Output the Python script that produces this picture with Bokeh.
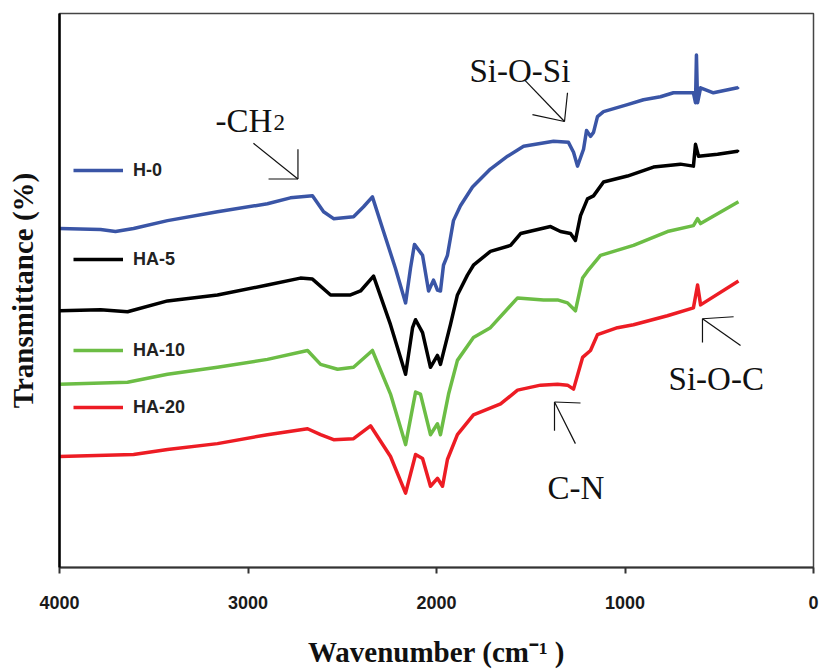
from bokeh.plotting import figure
from bokeh.models import Range1d, FixedTicker, Label, Legend, LegendItem
from bokeh.embed import file_html
from bokeh.resources import INLINE

# ---------------- data (wavenumber cm-1, transmittance in arbitrary offset units) ----------------
h0_wn = [4000, 3782, 3703, 3607, 3427, 3162, 2897, 2775, 2658, 2599, 2546, 2440, 2387, 2340,
         2281, 2218, 2164, 2138, 2117, 2074, 2042, 2016, 1995, 1979, 1963, 1942, 1910, 1873,
         1809, 1714, 1623, 1538, 1379, 1300, 1273, 1252, 1220, 1204, 1183, 1167, 1146, 1114,
         987, 902, 812, 743, 637, 626, 621, 615, 599, 531, 403, 398]
h0_t = [342, 341, 339, 342, 350, 359, 367, 373, 375, 359, 352, 354, 364, 374,
        339, 302, 267, 302, 326, 315, 279, 290, 280, 279, 305, 315, 350, 365,
        384, 402, 415, 425, 430, 429, 419, 405, 422, 441, 435, 439, 455, 460,
        467, 472, 475, 479, 479, 469, 517, 469, 484, 479, 484, 485]

ha5_wn = [4000, 3782, 3639, 3427, 3162, 2897, 2722, 2658, 2562, 2456, 2403, 2334, 2244, 2164,
          2127, 2111, 2074, 2032, 1995, 1979, 1926, 1889, 1836, 1804, 1714, 1607, 1554, 1395,
          1342, 1289, 1263, 1236, 1199, 1167, 1114, 987, 849, 706, 637, 626, 610, 509, 403, 398]
ha5_t = [259, 260, 258, 269, 275, 285, 292, 291, 275, 275, 279, 294, 245, 195,
         242, 250, 237, 202, 214, 205, 245, 275, 295, 305, 319, 325, 337, 344,
         339, 337, 330, 355, 372, 375, 389, 395, 404, 407, 405, 427, 415, 417, 420, 419]

ha10_wn = [4000, 3639, 3427, 3162, 2897, 2684, 2615, 2525, 2440, 2340, 2244, 2164, 2111, 2085,
           2032, 1995, 1979, 1936, 1889, 1804, 1714, 1570, 1432, 1358, 1305, 1263, 1225, 1199,
           1130, 955, 775, 637, 615, 599, 398]
ha10_t = [185, 187, 195, 202, 210, 219, 205, 200, 202, 219, 175, 124, 177, 175,
          134, 145, 134, 175, 209, 232, 242, 272, 270, 270, 267, 259, 292, 299,
          315, 325, 339, 345, 352, 347, 369]

ha20_wn = [4000, 3607, 3427, 3162, 2897, 2684, 2615, 2546, 2440, 2350, 2244, 2164, 2111, 2074,
           2032, 1995, 1968, 1942, 1889, 1804, 1660, 1570, 1448, 1358, 1305, 1273, 1225, 1183,
           1146, 1040, 955, 775, 637, 615, 599, 398]
ha20_t = [112, 114, 119, 125, 134, 140, 134, 129, 130, 143, 112, 75, 114, 110,
          82, 90, 82, 109, 134, 154, 165, 179, 184, 185, 184, 180, 212, 219,
          235, 242, 245, 254, 262, 285, 265, 289]

series_names = ["H-0", "HA-5", "HA-10", "HA-20"]
series_colors = ["#3A55A6", "#000000", "#6CBD45", "#ED1C24"]
x_ticks = [4000, 3000, 2000, 1000, 0]

# ---------------- figure ----------------
p = figure(width=819, height=670, output_backend="svg", toolbar_location=None,
           x_range=Range1d(4000, 0), y_range=Range1d(0, 559),
           min_border_left=59, min_border_right=6, min_border_top=13, min_border_bottom=98)
p.background_fill_color = "white"
p.border_fill_color = "white"
p.outline_line_color = "#444444"
p.outline_line_width = 1.5
p.xgrid.visible = False
p.ygrid.visible = False

serif = "Liberation Serif"

p.xaxis.ticker = FixedTicker(ticks=x_ticks)
p.xaxis.axis_line_color = "#333333"
p.xaxis.axis_line_width = 2
p.xaxis.major_tick_line_color = "#333333"
p.xaxis.major_tick_line_width = 2
p.xaxis.major_tick_in = 0
p.xaxis.major_tick_out = 6
p.xaxis.minor_tick_line_color = None
p.xaxis.major_label_text_font = "Liberation Sans"
p.xaxis.major_label_text_font_style = "bold"
p.xaxis.major_label_text_font_size = "18px"
p.xaxis.major_label_text_color = "#1a1a1a"
p.xaxis.major_label_standoff = 22
p.xaxis.axis_label = "Wavenumber (cm\u207B\u00B9 )"
p.xaxis.axis_label_text_font = serif
p.xaxis.axis_label_text_font_style = "bold"
p.xaxis.axis_label_text_font_size = "29px"
p.xaxis.axis_label_text_color = "#111111"
p.xaxis.axis_label_standoff = 24

p.yaxis.ticker = FixedTicker(ticks=[])
p.yaxis.axis_line_color = "#000000"
p.yaxis.axis_line_width = 2.5
p.yaxis.major_tick_line_color = None
p.yaxis.minor_tick_line_color = None
p.yaxis.axis_label = "Transmittance (%)"
p.yaxis.axis_label_text_font = serif
p.yaxis.axis_label_text_font_style = "bold"
p.yaxis.axis_label_text_font_size = "29px"
p.yaxis.axis_label_text_color = "#111111"
p.yaxis.axis_label_standoff = 21

data = [(h0_wn, h0_t), (ha5_wn, ha5_t), (ha10_wn, ha10_t), (ha20_wn, ha20_t)]
renderers = []
for (wn, t), c in zip(data, series_colors):
    r = p.line(wn, t, line_color=c, line_width=3.5, line_join="round")
    renderers.append(r)

# legends: one per series, placed like the original
legend_pos = [(14, 386), (14, 297), (14, 206), (14, 149)]
for name, r, loc in zip(series_names, renderers, legend_pos):
    leg = Legend(items=[LegendItem(label=name, renderers=[r])], location=loc,
                 padding=0, margin=0, spacing=0, border_line_color=None,
                 background_fill_alpha=0, glyph_width=50, glyph_height=22,
                 label_height=22, label_standoff=10,
                 label_text_font="Liberation Sans", label_text_font_style="bold",
                 label_text_font_size="18px", label_text_color="#222222")
    p.add_layout(leg)

# ---------------- peak annotations ----------------
arrow_x0 = [2971, 2735, 2891, 1533, 1305, 1491, 387, 424, 589, 1263, 1236, 1374]
arrow_y0 = [428, 422, 392, 492, 479, 457, 224, 253, 227, 125, 166, 138]
arrow_x1 = [2735, 2735, 2735, 1321, 1321, 1321, 589, 589, 589, 1374, 1374, 1374]
arrow_y1 = [392, 392, 392, 450, 450, 450, 251, 251, 251, 167, 167, 167]
p.segment(arrow_x0, arrow_y0, arrow_x1, arrow_y1, line_color="#111111", line_width=1.2)

for txt, x, y, size in [("-CH", 3172, 451, "33px"), ("2", 2865, 449, "23px"),
                        ("Si-O-Si", 1825, 501, "33px"), ("Si-O-C", 769, 190, "33px"),
                        ("C-N", 1411, 80, "33px")]:
    p.add_layout(Label(x=x, y=y, text=txt, text_font=serif, text_font_size=size,
                       text_color="#111111", text_align="left", text_baseline="alphabetic"))

open("out.html", "w").write(file_html(p, INLINE))
